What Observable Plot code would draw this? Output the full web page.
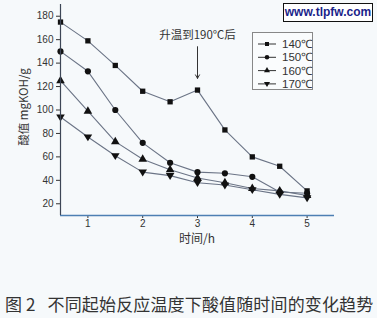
<!DOCTYPE html>
<html><head><meta charset="utf-8">
<script src="https://cdn.jsdelivr.net/npm/d3@7"></script>
<script src="https://cdn.jsdelivr.net/npm/@observablehq/plot@0.6"></script>
<style>
body{margin:0;background:#f6f9fb;font-family:"Liberation Sans","Noto Sans CJK SC",sans-serif;}
#wrap{position:relative;width:377px;height:318px;overflow:hidden;background:#f6f9fb;}
#chart{position:absolute;left:0;top:0;}
#wm{position:absolute;left:283px;top:3px;width:88px;height:17px;border:1.5px solid #111;background:#fff;color:#1b1f8a;font:bold 12px "Liberation Sans",sans-serif;text-align:center;line-height:17px;white-space:nowrap;}
#legend{position:absolute;left:252px;top:32px;}
#cap{position:absolute;left:5px;top:291px;font:17px "Noto Sans CJK SC",sans-serif;color:#333;white-space:nowrap;letter-spacing:0.15px;}
</style></head><body>
<div id="wrap"><div id="chart"></div><div id="legend"></div><div id="wm">www.tlpfw.com</div><div id="cap">图 2&nbsp;&nbsp;&nbsp;不同起始反应温度下酸值随时间的变化趋势</div></div>
<script>
const times = [0.5, 1, 1.5, 2, 2.5, 3, 3.5, 4, 4.5, 5];
const series = ["140℃", "150℃", "160℃", "170℃"];
const s140 = [175, 159, 138, 116, 107, 117, 83, 60, 52, 31];
const s150 = [150, 133, 100, 72, 55, 47, 46, 43, 30, 29];
const s160 = [125, 99, 73, 58, 49, 42, 38, 33, 31, 27];
const s170 = [94, 77, 61, 47, 44, 38, 36, 32, 28, 25];
const xTicks = [1, 2, 3, 4, 5];
const yTicks = [20, 40, 60, 80, 100, 120, 140, 160, 180];
const annotText = "升温到190℃后";
const annotX = 3;
const annotTextY = 164;
const arrowFromY = 154;
const arrowToY = 127;

const triangleDown = {draw(ctx, size){const h=Math.sqrt(size/ (Math.sqrt(3)/4))/2; const y=h*0.6; ctx.moveTo(-h, -y); ctx.lineTo(h, -y); ctx.lineTo(0, y*1.7); ctx.closePath();}};
const symbols = ["square", "circle", "triangle", triangleDown];
const sizes = [28, 30, 32, 32];
const allVals = [s140, s150, s160, s170];
const rows = [];
series.forEach((s, i) => times.forEach((t, j) => rows.push({series: s, t, v: allVals[i][j], si: i})));

const lineColor = "#6b7486";
const marks = [];
series.forEach((s, i) => {
  const d = rows.filter(r => r.si === i);
  marks.push(Plot.line(d, {x: "t", y: "v", stroke: lineColor, strokeWidth: 1.1, curve: "linear"}));
  marks.push(Plot.dot(d, {x: "t", y: "v", symbol: () => symbols[i], r: Math.sqrt(sizes[i]/Math.PI), fill: "#111", stroke: "none"}));
});
marks.push(Plot.arrow([{x: annotX, y1: arrowFromY, y2: arrowToY}], {x1: "x", x2: "x", y1: "y1", y2: "y2", stroke: "#333", strokeWidth: 1, headLength: 6, bend: 0}));
marks.push(Plot.text([{x: annotX, y: annotTextY, t: annotText}], {x: "x", y: "y", text: "t", fontSize: 11.5, fill: "#333", fontFamily: "Noto Sans CJK SC"}));
marks.push(Plot.axisY({ticks: yTicks, tickSize: 4, tickPadding: 3, fontSize: 10, label: null, color: "#333"}));
marks.push(Plot.axisX({ticks: xTicks, tickFormat: d3.format("d"), tickSize: 3, tickPadding: 1, fontSize: 10, label: null, color: "#333"}));
marks.push(Plot.ruleY([10], {stroke: "#4d7fb3", strokeWidth: 1.3}));
marks.push(Plot.ruleX([0.5], {stroke: "#3d4656", strokeWidth: 1.2}));

const plot = Plot.plot({
  width: 377, height: 250,
  marginTop: 4, marginBottom: 35, marginLeft: 60, marginRight: 43,
  x: {domain: [0.5, 5.5]},
  y: {domain: [10, 190]},
  style: {background: "transparent", fontFamily: "Liberation Sans", color: "#333"},
  marks
});
document.getElementById("chart").appendChild(plot);
const svg = d3.select(plot);
svg.append("text").attr("x", 197).attr("y", 243).attr("text-anchor", "middle").attr("font-size", 12).attr("fill", "#333").attr("font-family", "Noto Sans CJK SC").text("时间/h");
svg.append("text").attr("transform", "translate(28,107) rotate(-90)").attr("text-anchor", "middle").attr("font-size", 11.5).attr("fill", "#333").attr("font-family", "Noto Sans CJK SC").text("酸值 mgKOH/g");

// legend
const lg = d3.select("#legend").append("svg").attr("width", 62).attr("height", 59);
lg.append("rect").attr("x", 0.5).attr("y", 0.5).attr("width", 60).attr("height", 57).attr("fill", "#fafcfd").attr("stroke", "#888");
series.forEach((s, i) => {
  const y = 12 + i * 13.3;
  lg.append("line").attr("x1", 6).attr("x2", 24).attr("y1", y).attr("y2", y).attr("stroke", "#333").attr("stroke-width", 1);
  lg.append("path").attr("transform", `translate(15,${y})`).attr("d", d3.symbol(symbols[i] === triangleDown ? triangleDown : ({square: d3.symbolSquare, circle: d3.symbolCircle, triangle: d3.symbolTriangle})[symbols[i]], 16)()).attr("fill", "#111");
  lg.append("text").attr("x", 30).attr("y", y + 4).attr("font-size", 11.5).attr("fill", "#333").attr("font-family", "Liberation Sans").text(s);
});
</script></body></html>
